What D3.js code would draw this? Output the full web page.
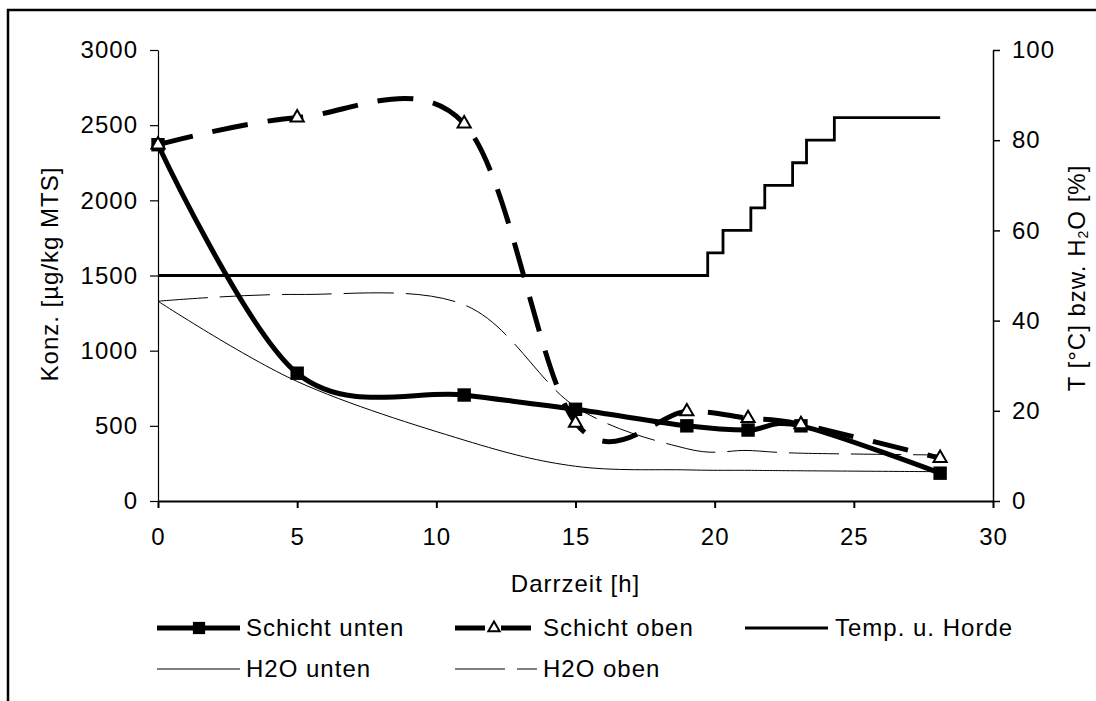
<!DOCTYPE html>
<html>
<head>
<meta charset="utf-8">
<script src="https://cdn.jsdelivr.net/npm/d3@7"></script>
<style>
  html, body { margin: 0; padding: 0; background: #fff; }
  svg text { font-family: "Liberation Sans", Arial, sans-serif; fill: #000; }
</style>
</head>
<body>
<svg id="chart" width="1096" height="701"></svg>
<script>
// ---- data ----
const times = [0, 5, 11, 15, 19, 21.2, 23.1, 28.1];
const schichtUnten = [2370, 850, 705, 610, 500, 472, 500, 185];
const schichtOben = [2370, 2550, 2510, 520, 595, 550, 510, 285];
const h2oUnten = [44.3, 26.5, 13.5, 7.7, 6.9, 6.8, 6.7, 6.5];
const h2oOben = [44.3, 45.8, 43.5, 20.9, 11.6, 11.2, 10.6, 10.2];
const tempTimes = [0, 19.75, 20.3, 21.3, 21.8, 22.8, 23.3, 24.3, 28.1];
const tempValues = [50, 55, 60, 65, 70, 75, 80, 85, 85];
const xTicks = [0, 5, 10, 15, 20, 25, 30];
const yLeftTicks = [0, 500, 1000, 1500, 2000, 2500, 3000];
const yRightTicks = [0, 20, 40, 60, 80, 100];
const legendNames = ["Schicht unten", "Schicht oben", "Temp. u. Horde", "H2O unten", "H2O oben"];

// ---- setup ----
const svg = d3.select("#chart");
const FS = 24;
const LS = "1px";
const x = d3.scaleLinear().domain([0, 30]).range([158, 993]);
const yL = d3.scaleLinear().domain([0, 3000]).range([501, 50]);
const yR = d3.scaleLinear().domain([0, 100]).range([501, 50]);
const fmt = d3.format("d");

// frame (left and top edges)
svg.append("path").attr("d", "M8,701 L8,10 L1096,10")
  .attr("fill", "none").attr("stroke", "#000").attr("stroke-width", 2.5);

function styleAxis(g, w) {
  g.select(".domain").attr("stroke", "#000").attr("stroke-width", w);
  g.selectAll(".tick line").attr("stroke", "#000").attr("stroke-width", w);
  g.selectAll(".tick text").attr("font-size", FS).attr("letter-spacing", LS)
    .attr("font-family", "'Liberation Sans', Arial, sans-serif");
}

const gx = svg.append("g").attr("transform", "translate(0,501)")
  .call(d3.axisBottom(x).tickValues(xTicks).tickFormat(fmt).tickSize(7).tickPadding(20).tickSizeOuter(0));
styleAxis(gx, 2);
const gl = svg.append("g").attr("transform", "translate(158,0)")
  .call(d3.axisLeft(yL).tickValues(yLeftTicks).tickFormat(fmt).tickSize(8).tickPadding(12).tickSizeOuter(0));
styleAxis(gl, 1.2);
const gr = svg.append("g").attr("transform", "translate(993,0)")
  .call(d3.axisRight(yR).tickValues(yRightTicks).tickFormat(fmt).tickSize(7).tickPadding(12).tickSizeOuter(0));
styleAxis(gr, 1.5);

// axis titles
svg.append("text").attr("x", 575.5).attr("y", 592).attr("text-anchor", "middle")
  .attr("font-size", FS).attr("letter-spacing", LS).text("Darrzeit [h]");
svg.append("text").attr("transform", "translate(58,274) rotate(-90)").attr("text-anchor", "middle")
  .attr("font-size", FS).attr("letter-spacing", LS).text("Konz. [µg/kg MTS]");
const rt = svg.append("text").attr("transform", "translate(1085,278) rotate(-90)").attr("text-anchor", "middle")
  .attr("font-size", FS).attr("letter-spacing", LS);
rt.append("tspan").text("T [°C] bzw. H");
rt.append("tspan").attr("font-size", 14).attr("dy", 3).text("2");
rt.append("tspan").attr("dy", -3).text("O [%]");

// ---- series ----
const smooth = d3.curveCatmullRom.alpha(0);
const lineL = d3.line().x(d => x(d[0])).y(d => yL(d[1])).curve(smooth);
const lineR = d3.line().x(d => x(d[0])).y(d => yR(d[1])).curve(smooth);
const stepR = d3.line().x(d => x(d[0])).y(d => yR(d[1])).curve(d3.curveStepAfter);

const zip = (a, b) => a.map((v, i) => [v, b[i]]);
const dUnten = zip(times, schichtUnten);
const dOben = zip(times, schichtOben);

svg.append("path").datum(zip(tempTimes, tempValues)).attr("d", stepR)
  .attr("fill", "none").attr("stroke", "#000").attr("stroke-width", 2.8);
svg.append("path").datum(zip(times, h2oUnten)).attr("d", lineR)
  .attr("fill", "none").attr("stroke", "#000").attr("stroke-width", 1);
svg.append("path").datum(zip(times, h2oOben)).attr("d", lineR)
  .attr("fill", "none").attr("stroke", "#000").attr("stroke-width", 1)
  .attr("stroke-dasharray", "50,12");
svg.append("path").datum(dUnten).attr("d", lineL)
  .attr("fill", "none").attr("stroke", "#000").attr("stroke-width", 5);
svg.append("path").datum(dOben).attr("d", lineL)
  .attr("fill", "none").attr("stroke", "#000").attr("stroke-width", 5)
  .attr("stroke-dasharray", "36,20");

const sq = d3.symbol().type(d3.symbolSquare).size(180);
const tri = d3.symbol().type(d3.symbolTriangle).size(75);
svg.append("g").selectAll("path").data(dUnten).join("path")
  .attr("d", sq).attr("transform", d => `translate(${x(d[0])},${yL(d[1])})`).attr("fill", "#000");
svg.append("g").selectAll("path").data(dOben).join("path")
  .attr("d", tri).attr("transform", d => `translate(${x(d[0])},${yL(d[1])})`)
  .attr("fill", "#fff").attr("stroke", "#000").attr("stroke-width", 2);

// ---- legend ----
const lg = svg.append("g");
function legText(xp, yp, t) {
  lg.append("text").attr("x", xp).attr("y", yp).attr("dy", "0.35em")
    .attr("font-size", FS).attr("letter-spacing", LS).text(t);
}
function legLine(x1, x2, yp, w, dash) {
  const l = lg.append("line").attr("x1", x1).attr("x2", x2).attr("y1", yp).attr("y2", yp)
    .attr("stroke", "#000").attr("stroke-width", w);
  if (dash) l.attr("stroke-dasharray", dash);
}
const r1 = 628, r2 = 669;
legLine(157, 240, r1, 5);
lg.append("path").attr("d", d3.symbol().type(d3.symbolSquare).size(150)).attr("transform", `translate(199,${r1})`);
legText(246, r1, legendNames[0]);
legLine(455, 537, r1, 5, "30,16");
lg.append("path").attr("d", d3.symbol().type(d3.symbolTriangle).size(55)).attr("transform", `translate(494,${r1})`)
  .attr("fill", "#fff").attr("stroke", "#000").attr("stroke-width", 2);
legText(543, r1, legendNames[1]);
legLine(745, 828, r1, 2.8);
legText(835, r1, legendNames[2]);
legLine(157, 240, r2, 1);
legText(246, r2, legendNames[3]);
legLine(455, 537, r2, 1, "50,12");
legText(543, r2, legendNames[4]);
</script>
</body>
</html>
